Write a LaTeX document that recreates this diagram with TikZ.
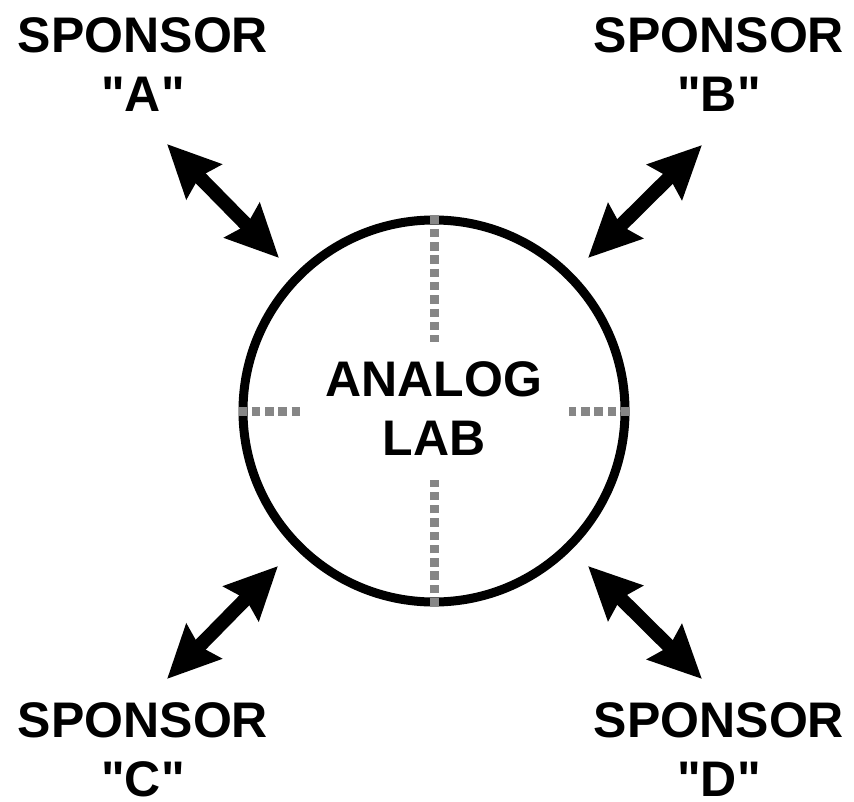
\documentclass[tikz,border=0pt]{standalone}
\usepackage{fontspec}
\setmainfont{Liberation Sans}
\usetikzlibrary{arrows.meta}

\tikzset{
  label text/.style={font=\bfseries\fontsize{50}{59}\selectfont, align=center,
    inner sep=0pt, text depth=0pt, anchor=south},
  link/.style={line width=14pt, black,
    {Stealth[length=52pt, width=48pt, inset=6pt]}-{Stealth[length=52pt, width=48pt, inset=6pt]}},
  quarter/.style={draw=gray!95!white, line width=9pt, dash pattern=on 8.5pt off 4.8pt},
  ring/.style={circle, draw=black, line width=9pt, minimum size=382pt, inner sep=0pt}
}

\begin{document}
\begin{tikzpicture}[x=1pt, y=-1pt]
  \useasboundingbox (0,0) rectangle (854,802);

  % central lab
  \node[ring] (lab) at (434,411) {};
  \node[label text] (labtext) at (434,456) {ANALOG\\LAB};

  % quadrant markers
  \draw[quarter] (lab.north) -- ++(0,126);
  \draw[quarter] (lab.south) -- ++(0,-127);
  \draw[quarter] (lab.west) -- ++(61,0);
  \draw[quarter] (lab.east) -- ++(-61,0);

  % sponsors
  \node[label text] (spa) at (143,112) {SPONSOR\\\textquotedbl A\textquotedbl};
  \node[label text] (spb) at (719,112) {SPONSOR\\\textquotedbl B\textquotedbl};
  \node[label text] (spc) at (143,797) {SPONSOR\\\textquotedbl C\textquotedbl};
  \node[label text] (spd) at (719,797) {SPONSOR\\\textquotedbl D\textquotedbl};

  % arrow ends
  \coordinate (a1) at (167,144);
  \coordinate (a2) at (279,258);
  \coordinate (b1) at (702,145);
  \coordinate (b2) at (588,258);
  \coordinate (c1) at (167,679);
  \coordinate (c2) at (278,566);
  \coordinate (d1) at (702,679);
  \coordinate (d2) at (588,566);

  \draw[link] (a1) -- (a2);
  \draw[link] (b1) -- (b2);
  \draw[link] (c1) -- (c2);
  \draw[link] (d1) -- (d2);
\end{tikzpicture}
\end{document}
